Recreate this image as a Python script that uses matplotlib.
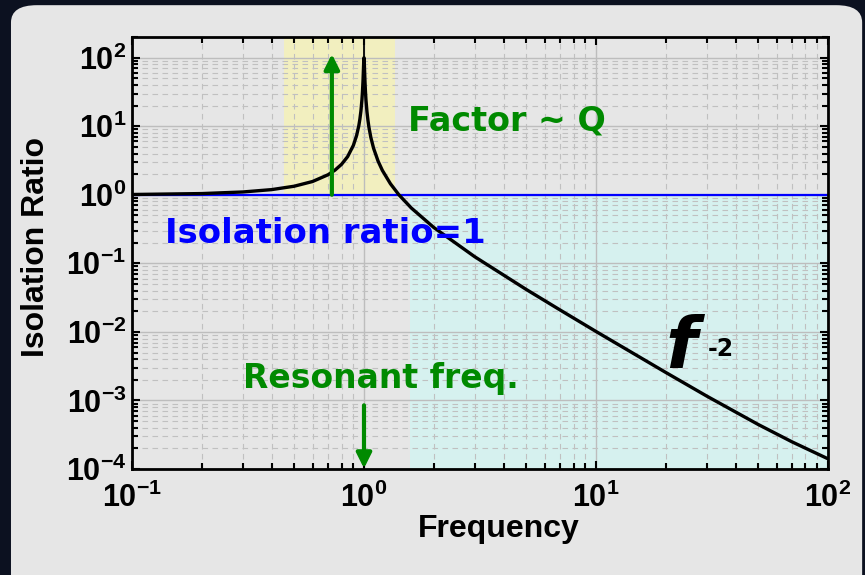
import numpy as np
import matplotlib
matplotlib.use("Agg")
import matplotlib.pyplot as plt
from matplotlib.patches import FancyBboxPatch
from matplotlib.ticker import LogLocator, FuncFormatter, NullFormatter

plt.rcParams['font.family'] = ['Liberation Sans', 'DejaVu Sans']
plt.rcParams['font.weight'] = 'bold'
plt.rcParams['mathtext.fontset'] = 'custom'
plt.rcParams['mathtext.rm'] = 'Liberation Sans:bold'
plt.rcParams['mathtext.default'] = 'rm'

# transmissibility of a damped oscillator
freq = [0.1, 0.2, 0.3, 0.4, 0.5, 0.6, 0.7, 0.75, 0.8, 0.85, 0.9, 0.93, 0.95,
        0.96, 0.97, 0.98, 0.985, 0.99, 0.995, 0.9975, 1.0, 1.0025, 1.005,
        1.01, 1.015, 1.02, 1.03, 1.04, 1.05, 1.07, 1.1, 1.15, 1.2, 1.3,
        1.414, 1.6, 2.0, 3.0, 5.0, 7.0, 10.0, 20.0, 30.0, 50.0, 70.0, 100.0]
ratio = [1.01, 1.042, 1.099, 1.19, 1.333, 1.562, 1.96, 2.29, 2.78, 3.60,
         5.26, 7.40, 10.2, 12.7, 16.7, 24.5, 31.9, 45.0, 71.0, 89.6, 100.0,
         89.2, 70.4, 44.5, 31.4, 24.0, 16.2, 12.2, 9.7, 6.90, 4.76, 3.10,
         2.27, 1.449, 1.0, 0.641, 0.333, 0.125, 0.0417, 0.0209, 0.01015,
         2.56e-3, 1.16e-3, 4.47e-4, 2.49e-4, 1.41e-4]

resonance_band = (0.45, 1.36)   # amplification region
isolation_start = 1.58          # isolation region
f_res = 1.0
peak = 100.0

xlim = (0.1, 100)
ylim = (1e-4, 200)

green = '#008a00'

fig = plt.figure(figsize=(8.65, 5.75), dpi=100)
fig.patch.set_facecolor('#0c1120')

# rounded light panel behind the plot
panel = FancyBboxPatch((0.0127, -0.05), 0.984, 1.041,
                       boxstyle="round,pad=0,rounding_size=0.03",
                       transform=fig.transFigure, facecolor='#e6e6e6',
                       edgecolor='none', zorder=-5)
fig.patches.append(panel)

ax = fig.add_axes([0.1526, 0.1843, 0.8046, 0.7513])
ax.set_facecolor('#e6e6e6')
ax.set_xscale('log')
ax.set_yscale('log')
ax.set_xlim(*xlim)
ax.set_ylim(*ylim)

# shaded regions
ax.fill_between(resonance_band, 1, ylim[1], color='#f2efbf', lw=0, zorder=1)
ax.fill_between([isolation_start, xlim[1]], ylim[0], 1, color='#d6f1ef',
                lw=0, zorder=1)

# grid
ax.grid(True, which='major', color='#bdbdbd', lw=1.0, ls='-')
ax.grid(True, which='minor', color='#c0c0c0', lw=0.8, ls=(0, (5, 4)))

ax.axhline(1, color='#0000ff', lw=1.6, zorder=3)
ax.plot(freq, ratio, color='black', lw=2.4, zorder=4)
ax.vlines(f_res, peak, ylim[1], color='black', lw=1.3, zorder=4)

# arrows
arrow = dict(arrowstyle='-|>,head_length=0.9,head_width=0.45', color=green,
             lw=3, shrinkA=0, shrinkB=0)
ax.annotate('', xy=(0.727, 113), xytext=(0.727, 1), arrowprops=arrow, zorder=5)
ax.annotate('', xy=(f_res, 1.02e-4), xytext=(f_res, 8.5e-4),
            arrowprops=arrow, zorder=5)

txt = dict(family='DejaVu Sans', fontweight='bold', zorder=6)
ax.text(1.55, 8.6, 'Factor ~ Q', color=green, fontsize=24, va='baseline', **txt)
ax.text(0.139, 0.195, 'Isolation ratio=1', color='#0000ff', fontsize=24.4,
        va='baseline', **txt)
ax.text(0.301, 1.51e-3, 'Resonant freq.', color=green, fontsize=23.8,
        va='baseline', **txt)
ax.text(20.0, 2.95e-3, 'f', color='black', fontsize=52, style='italic',
        va='baseline', **txt)
ax.text(30.4, 4.5e-3, '-2', color='black', fontsize=17, va='baseline', **txt)

# ticks
ax.xaxis.set_major_locator(LogLocator(base=10, numticks=10))
ax.yaxis.set_major_locator(LogLocator(base=10, numticks=10))
ax.xaxis.set_minor_locator(LogLocator(base=10, subs=np.arange(2, 10), numticks=20))
ax.yaxis.set_minor_locator(LogLocator(base=10, subs=np.arange(2, 10), numticks=20))
fmt = FuncFormatter(lambda v, p: r'$10^{%d}$' % int(round(np.log10(v))))
ax.xaxis.set_major_formatter(fmt)
ax.yaxis.set_major_formatter(fmt)
ax.xaxis.set_minor_formatter(NullFormatter())
ax.yaxis.set_minor_formatter(NullFormatter())
ax.tick_params(which='both', direction='in', top=True, right=True,
               colors='black', width=1.5)
ax.tick_params(which='major', length=6, labelsize=22)
ax.tick_params(axis='x', which='major', pad=10)
ax.tick_params(axis='y', which='major', pad=4)
ax.tick_params(which='minor', length=4)
for s in ax.spines.values():
    s.set_linewidth(2)
    s.set_zorder(7)

ax.set_xlabel('Frequency', fontsize=23, fontweight='bold')
ax.set_ylabel('Isolation Ratio', fontsize=23, fontweight='bold')
ax.xaxis.set_label_coords(0.527, -0.103)
ax.yaxis.set_label_coords(-0.117, 0.514)

fig.savefig('out.png', dpi=100, facecolor=fig.get_facecolor())
